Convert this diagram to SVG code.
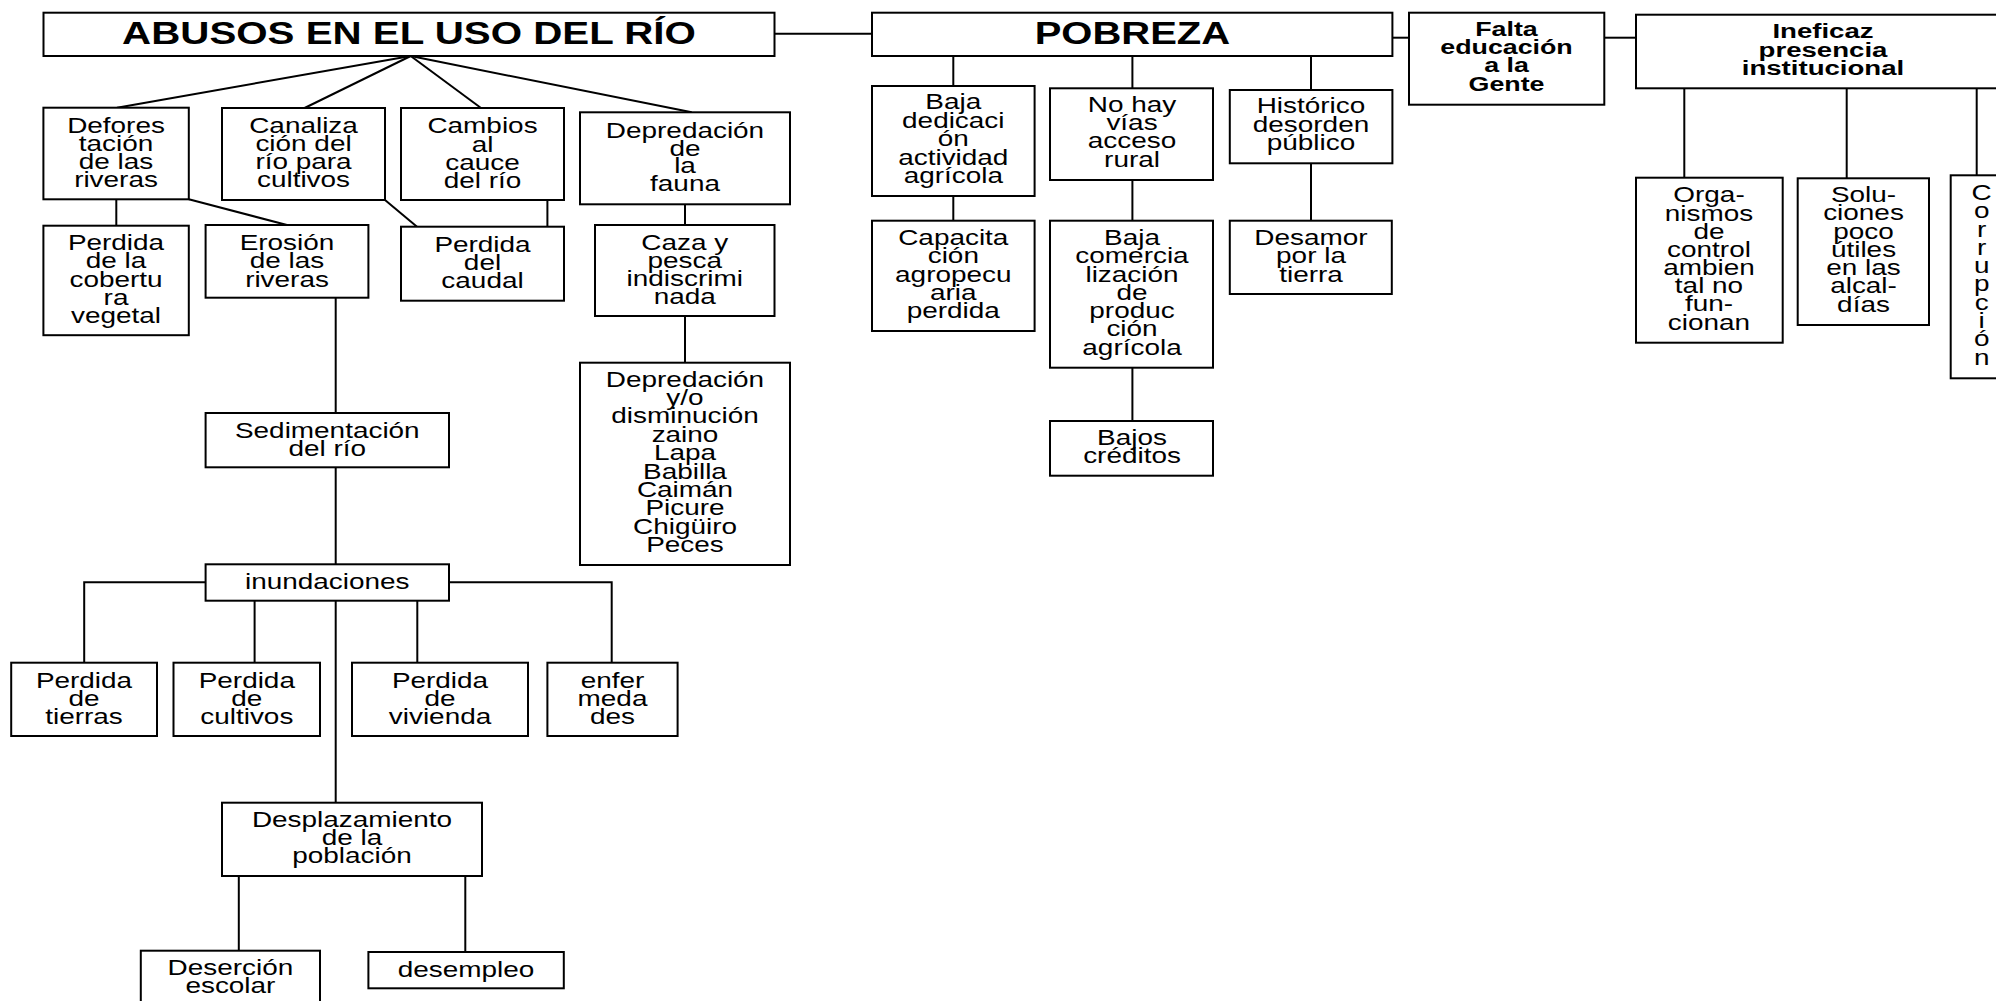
<svg xmlns="http://www.w3.org/2000/svg" width="1996" height="1001" viewBox="0 0 1996 1001">
<style>
rect{fill:#fff;stroke:#000;stroke-width:2}
#connectors path{fill:none;stroke:#000;stroke-width:2}
text{font-family:"Liberation Sans",Arial,sans-serif;fill:#000;text-anchor:middle}
.t{font-size:22px}
.h{font-size:31px;font-weight:bold}
.b{font-size:20px;font-weight:bold}
</style>
<rect x="0" y="0" width="1996" height="1001" style="stroke:none"/>
<g id="connectors">
<path d="M774.5,33.7 H872"/>
<path d="M1392.4,37.7 H1409"/>
<path d="M1604.3,37.7 H1636"/>
<path d="M410.7,56 L117,107.7"/>
<path d="M410.7,56 L304.6,108"/>
<path d="M410.7,56 L481,108"/>
<path d="M410.7,56 L691.7,112.3"/>
<path d="M116.3,199.3 V225.7"/>
<path d="M188.8,199.3 L287,225"/>
<path d="M385,200 L417,226.7"/>
<path d="M547.4,200 V226.7"/>
<path d="M685,204.3 V225"/>
<path d="M685,316 V362.7"/>
<path d="M335.7,297.7 V413"/>
<path d="M335.7,467.3 V564.3"/>
<path d="M205.6,582.3 H84.2 V662.7"/>
<path d="M449,582.3 H611.7 V662.7"/>
<path d="M254.6,600.7 V662.7"/>
<path d="M417.3,600.7 V662.7"/>
<path d="M335.7,600.7 V802.7"/>
<path d="M238.8,876 V950.7"/>
<path d="M465.3,876 V952"/>
<path d="M953.3,56 V86"/>
<path d="M1132.4,56 V88.3"/>
<path d="M1311,56 V90"/>
<path d="M953.3,196 V220.7"/>
<path d="M1132.4,180 V220.7"/>
<path d="M1311,163.3 V220.7"/>
<path d="M1132.4,367.7 V421"/>
<path d="M1684.3,88.3 V177.7"/>
<path d="M1846.7,88.3 V178.3"/>
<path d="M1976.7,88.3 V175.3"/>
</g>
<g id="abusos"><rect x="43.5" y="12.7" width="731" height="43.3"/>
<text class="h" transform="translate(409,44) scale(1.3,1)">ABUSOS EN EL USO DEL RÍO</text></g>
<g id="pobreza"><rect x="872" y="12.7" width="520.4" height="43.3"/>
<text class="h" transform="translate(1132.4,44) scale(1.29,1)">POBREZA</text></g>
<g id="falta"><rect x="1409" y="12.7" width="195.3" height="92"/>
<text class="b" transform="translate(1506.5,35.7) scale(1.34,1)"><tspan x="0">Falta</tspan><tspan x="0" dy="18.33">educación</tspan><tspan x="0" dy="18.33">a la</tspan><tspan x="0" dy="18.33">Gente</tspan></text></g>
<g id="ineficaz"><rect x="1636" y="14.7" width="380" height="73.6"/>
<text class="b" transform="translate(1823,38.3) scale(1.38,1)"><tspan x="0">Ineficaz</tspan><tspan x="0" dy="18.4">presencia</tspan><tspan x="0" dy="18.4">institucional</tspan></text></g>
<g id="deforestacion"><rect x="43.4" y="107.7" width="145.4" height="91.6"/>
<text class="t" transform="translate(116,132.7) scale(1.27,1)"><tspan x="0">Defores</tspan><tspan x="0" dy="18.2">tación</tspan><tspan x="0" dy="18.2">de las</tspan><tspan x="0" dy="18.2">riveras</tspan></text></g>
<g id="canalizacion"><rect x="222" y="108" width="163" height="92"/>
<text class="t" transform="translate(303.5,132.7) scale(1.27,1)"><tspan x="0">Canaliza</tspan><tspan x="0" dy="18.2">ción del</tspan><tspan x="0" dy="18.2">río para</tspan><tspan x="0" dy="18.2">cultivos</tspan></text></g>
<g id="cambios"><rect x="401" y="108" width="163" height="92"/>
<text class="t" transform="translate(482.5,133.3) scale(1.27,1)"><tspan x="0">Cambios</tspan><tspan x="0" dy="18.2">al</tspan><tspan x="0" dy="18.2">cauce</tspan><tspan x="0" dy="18.2">del río</tspan></text></g>
<g id="depredacion-fauna"><rect x="580" y="112.3" width="210" height="92"/>
<text class="t" transform="translate(685,137.7) scale(1.27,1)"><tspan x="0">Depredación</tspan><tspan x="0" dy="17.8">de</tspan><tspan x="0" dy="17.8">la</tspan><tspan x="0" dy="17.8">fauna</tspan></text></g>
<g id="cobertura"><rect x="43.4" y="225.7" width="145.4" height="109.5"/>
<text class="t" transform="translate(116,250) scale(1.27,1)"><tspan x="0">Perdida</tspan><tspan x="0" dy="18.3">de la</tspan><tspan x="0" dy="18.3">cobertu</tspan><tspan x="0" dy="18.3">ra</tspan><tspan x="0" dy="18.3">vegetal</tspan></text></g>
<g id="erosion"><rect x="205.6" y="225" width="162.8" height="72.7"/>
<text class="t" transform="translate(287,250) scale(1.27,1)"><tspan x="0">Erosión</tspan><tspan x="0" dy="18.3">de las</tspan><tspan x="0" dy="18.3">riveras</tspan></text></g>
<g id="caudal"><rect x="401" y="226.7" width="163" height="74"/>
<text class="t" transform="translate(482.5,251.7) scale(1.27,1)"><tspan x="0">Perdida</tspan><tspan x="0" dy="18.3">del</tspan><tspan x="0" dy="18.3">caudal</tspan></text></g>
<g id="caza"><rect x="595" y="225" width="179.5" height="91"/>
<text class="t" transform="translate(684.7,250) scale(1.27,1)"><tspan x="0">Caza y</tspan><tspan x="0" dy="18">pesca</tspan><tspan x="0" dy="18">indiscrimi</tspan><tspan x="0" dy="18">nada</tspan></text></g>
<g id="depredacion-especies"><rect x="580" y="362.7" width="210" height="202.3"/>
<text class="t" transform="translate(685,386.7) scale(1.27,1)"><tspan x="0">Depredación</tspan><tspan x="0" dy="18.4">y/o</tspan><tspan x="0" dy="18.4">disminución</tspan><tspan x="0" dy="18.4">zaino</tspan><tspan x="0" dy="18.4">Lapa</tspan><tspan x="0" dy="18.4">Babilla</tspan><tspan x="0" dy="18.4">Caimán</tspan><tspan x="0" dy="18.4">Picure</tspan><tspan x="0" dy="18.4">Chigüiro</tspan><tspan x="0" dy="18.4">Peces</tspan></text></g>
<g id="sedimentacion"><rect x="205.6" y="413" width="243.4" height="54.3"/>
<text class="t" transform="translate(327.3,438.3) scale(1.27,1)"><tspan x="0">Sedimentación</tspan><tspan x="0" dy="17.8">del río</tspan></text></g>
<g id="inundaciones"><rect x="205.6" y="564.3" width="243.4" height="36.4"/>
<text class="t" transform="translate(327.3,589) scale(1.27,1)">inundaciones</text></g>
<g id="tierras"><rect x="11.2" y="662.7" width="145.8" height="73.3"/>
<text class="t" transform="translate(84,688) scale(1.27,1)"><tspan x="0">Perdida</tspan><tspan x="0" dy="18.2">de</tspan><tspan x="0" dy="18.2">tierras</tspan></text></g>
<g id="cultivos"><rect x="173.5" y="662.7" width="146.5" height="73.3"/>
<text class="t" transform="translate(246.8,688) scale(1.27,1)"><tspan x="0">Perdida</tspan><tspan x="0" dy="18.2">de</tspan><tspan x="0" dy="18.2">cultivos</tspan></text></g>
<g id="vivienda"><rect x="352" y="662.7" width="176" height="73.3"/>
<text class="t" transform="translate(440,688) scale(1.27,1)"><tspan x="0">Perdida</tspan><tspan x="0" dy="18.2">de</tspan><tspan x="0" dy="18.2">vivienda</tspan></text></g>
<g id="enfermedades"><rect x="547.4" y="662.7" width="130.2" height="73.3"/>
<text class="t" transform="translate(612.5,688) scale(1.27,1)"><tspan x="0">enfer</tspan><tspan x="0" dy="18.2">meda</tspan><tspan x="0" dy="18.2">des</tspan></text></g>
<g id="desplazamiento"><rect x="222" y="802.7" width="260" height="73.3"/>
<text class="t" transform="translate(352,826.7) scale(1.27,1)"><tspan x="0">Desplazamiento</tspan><tspan x="0" dy="18.3">de la</tspan><tspan x="0" dy="18.3">población</tspan></text></g>
<g id="desercion"><rect x="140.8" y="950.7" width="179.2" height="70"/>
<text class="t" transform="translate(230.4,975) scale(1.27,1)"><tspan x="0">Deserción</tspan><tspan x="0" dy="17.7">escolar</tspan></text></g>
<g id="desempleo"><rect x="368.4" y="952" width="195.4" height="36.3"/>
<text class="t" transform="translate(466,976.7) scale(1.27,1)">desempleo</text></g>
<g id="baja-dedicacion"><rect x="872" y="86" width="162.6" height="110"/>
<text class="t" transform="translate(953.3,109.3) scale(1.27,1)"><tspan x="0">Baja</tspan><tspan x="0" dy="18.5">dedicaci</tspan><tspan x="0" dy="18.5">ón</tspan><tspan x="0" dy="18.5">actividad</tspan><tspan x="0" dy="18.5">agrícola</tspan></text></g>
<g id="no-hay-vias"><rect x="1050" y="88.3" width="163" height="91.7"/>
<text class="t" transform="translate(1132,111.7) scale(1.27,1)"><tspan x="0">No hay</tspan><tspan x="0" dy="18.3">vías</tspan><tspan x="0" dy="18.3">acceso</tspan><tspan x="0" dy="18.3">rural</tspan></text></g>
<g id="historico"><rect x="1229.8" y="90" width="162.6" height="73.3"/>
<text class="t" transform="translate(1311,113.3) scale(1.27,1)"><tspan x="0">Histórico</tspan><tspan x="0" dy="18.3">desorden</tspan><tspan x="0" dy="18.3">público</tspan></text></g>
<g id="capacitacion"><rect x="872" y="220.7" width="162.6" height="110.3"/>
<text class="t" transform="translate(953.3,245) scale(1.27,1)"><tspan x="0">Capacita</tspan><tspan x="0" dy="18.3">ción</tspan><tspan x="0" dy="18.3">agropecu</tspan><tspan x="0" dy="18.3">aria</tspan><tspan x="0" dy="18.3">perdida</tspan></text></g>
<g id="baja-comercializacion"><rect x="1050" y="220.7" width="163" height="147"/>
<text class="t" transform="translate(1132,245) scale(1.27,1)"><tspan x="0">Baja</tspan><tspan x="0" dy="18.3">comercia</tspan><tspan x="0" dy="18.3">lización</tspan><tspan x="0" dy="18.3">de</tspan><tspan x="0" dy="18.3">produc</tspan><tspan x="0" dy="18.3">ción</tspan><tspan x="0" dy="18.3">agrícola</tspan></text></g>
<g id="desamor"><rect x="1229.8" y="220.7" width="162" height="73.3"/>
<text class="t" transform="translate(1311,245) scale(1.27,1)"><tspan x="0">Desamor</tspan><tspan x="0" dy="18.3">por la</tspan><tspan x="0" dy="18.3">tierra</tspan></text></g>
<g id="bajos-creditos"><rect x="1050" y="421" width="163" height="54.7"/>
<text class="t" transform="translate(1132,445) scale(1.27,1)"><tspan x="0">Bajos</tspan><tspan x="0" dy="18.3">créditos</tspan></text></g>
<g id="organismos"><rect x="1636" y="177.7" width="146.7" height="165"/>
<text class="t" transform="translate(1709,202.3) scale(1.27,1)"><tspan x="0">Orga-</tspan><tspan x="0" dy="18.2">nismos</tspan><tspan x="0" dy="18.2">de</tspan><tspan x="0" dy="18.2">control</tspan><tspan x="0" dy="18.2">ambien</tspan><tspan x="0" dy="18.2">tal no</tspan><tspan x="0" dy="18.2">fun-</tspan><tspan x="0" dy="18.2">cionan</tspan></text></g>
<g id="soluciones"><rect x="1797.7" y="178.3" width="131.3" height="146.7"/>
<text class="t" transform="translate(1863.5,202) scale(1.27,1)"><tspan x="0">Solu-</tspan><tspan x="0" dy="18.3">ciones</tspan><tspan x="0" dy="18.3">poco</tspan><tspan x="0" dy="18.3">útiles</tspan><tspan x="0" dy="18.3">en las</tspan><tspan x="0" dy="18.3">alcal-</tspan><tspan x="0" dy="18.3">días</tspan></text></g>
<g id="corrupcion"><rect x="1950.7" y="175.3" width="70" height="203"/>
<text class="t" transform="translate(1981.7,200) scale(1.27,1)"><tspan x="0">C</tspan><tspan x="0" dy="18.3">o</tspan><tspan x="0" dy="18.3">r</tspan><tspan x="0" dy="18.3">r</tspan><tspan x="0" dy="18.3">u</tspan><tspan x="0" dy="18.3">p</tspan><tspan x="0" dy="18.3">c</tspan><tspan x="0" dy="18.3">i</tspan><tspan x="0" dy="18.3">ó</tspan><tspan x="0" dy="18.3">n</tspan></text></g>
</svg>
